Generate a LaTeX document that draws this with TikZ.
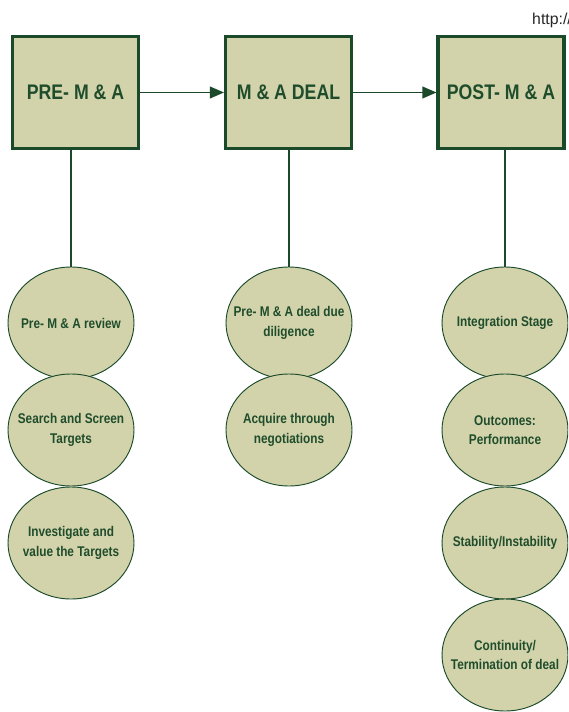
\documentclass[tikz,border=0pt]{standalone}
\usepackage{fontspec}
\setmainfont{Liberation Sans}[FakeStretch=0.84]
\newfontfamily\urlfont{Liberation Sans}
\usepackage{xcolor}
\usepackage{tikz}
\usetikzlibrary{arrows.meta,positioning,shapes.geometric}

\definecolor{mafill}{HTML}{D3D3AB}
\definecolor{maline}{HTML}{1A4A2A}
\definecolor{matext}{HTML}{1F4D2C}

\begin{document}
\begin{tikzpicture}[x=0.03cm, y=-0.03cm,
    phase/.style={rectangle, draw=maline, fill=mafill, line width=2.6pt, minimum width=3.78cm, minimum height=3.36cm, align=center, text=matext, font=\fontsize{18}{20}\selectfont\bfseries},
    task/.style={ellipse, draw=maline, fill=mafill, line width=0.8pt, minimum width=3.78cm, minimum height=3.36cm, inner sep=0pt},
    tasktext/.style={align=center, text=matext, font=\fontsize{12}{16.5}\selectfont\bfseries},
    link/.style={draw=maline, line width=1.2pt},
]
\useasboundingbox (0,0) rectangle (568,712);
\clip (0,0) rectangle (568,712);

% Stages
\node[phase] (pre) at (75.5,92.5) {PRE- M \& A};
\node[phase] (deal) at (288.5,92.5) {M \& A DEAL};
\node[phase] (post) at (501,92.5) {POST- M \& A};

% Pre-merger activities
\node[task, label={[tasktext]center:Pre- M \& A review}] (review) at (71,323) {};
\node[task, label={[tasktext]center:Search and Screen\\Targets}] (screen) at (71,430) {};
\node[task, label={[tasktext]center:Investigate and\\value the Targets}] (value) at (71,543) {};

% Deal activities
\node[task, label={[tasktext]center:Pre- M \& A deal due\\diligence}] (diligence) at (289,323) {};
\node[task, label={[tasktext]center:Acquire through\\negotiations}] (negotiate) at (289,430) {};

% Post-merger activities
\node[task, label={[tasktext]center:Integration Stage}] (integrate) at (505,323) {};
\node[task, label={[tasktext]center:Outcomes:\\Performance}] (outcome) at (505,430) {};
\node[task, label={[tasktext]center:Stability/Instability}] (stable) at (505,543) {};
\node[task, label={[tasktext]center:Continuity/\\Termination of deal}] (continue) at (505,655) {};

% Flow between stages
\draw[link, line width=1.5pt, -{Triangle[length=12pt, width=10pt]}] (pre) -- (deal);
\draw[link, line width=1.5pt, -{Triangle[length=12pt, width=10pt]}] (deal) -- (post);

% Stages to first activity
\foreach \from/\to in {pre/review, deal/diligence, post/integrate} {
    \draw[link, line width=0.9pt] (\from.south -| \to) -- (\to.north);
}

% Source note
\node[anchor=base west, inner sep=0pt, font=\urlfont\fontsize{13.5}{15}\selectfont, text=black!85] (src) at (532,25) {http://};

\end{tikzpicture}
\end{document}
